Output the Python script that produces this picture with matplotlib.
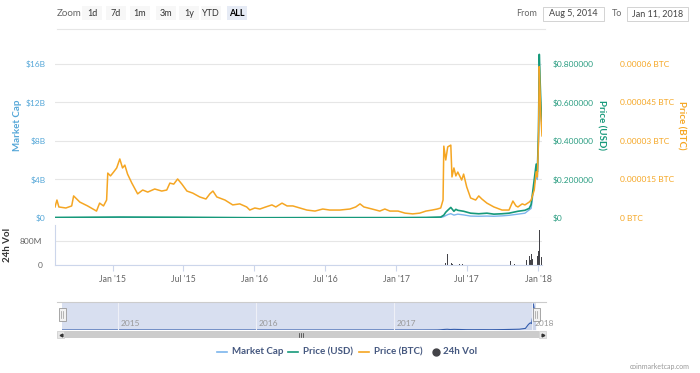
import numpy as np
import pandas as pd
import matplotlib
matplotlib.use("Agg")
import matplotlib.pyplot as plt
from matplotlib.patches import Rectangle

plt.rcParams['font.family'] = ['Lato', 'DejaVu Sans']

# ---- data ----
btc_dates = ["2014-08-05", "2014-08-10", "2014-08-15", "2014-09-02", "2014-09-17", "2014-09-22",
             "2014-10-08", "2014-10-28", "2014-11-20", "2014-11-28", "2014-12-08", "2014-12-16",
             "2014-12-19", "2014-12-26", "2015-01-03", "2015-01-11", "2015-01-19", "2015-01-26",
             "2015-02-01", "2015-02-08", "2015-02-19", "2015-03-06", "2015-03-19", "2015-04-01",
             "2015-04-19", "2015-05-07", "2015-05-20", "2015-05-28", "2015-06-07", "2015-06-17",
             "2015-06-28", "2015-07-11", "2015-07-26", "2015-08-13", "2015-08-29", "2015-09-08",
             "2015-09-16", "2015-09-26", "2015-10-17", "2015-11-06", "2015-11-24", "2015-12-12",
             "2015-12-20", "2016-01-02", "2016-01-15", "2016-01-30", "2016-02-15", "2016-02-25",
             "2016-03-12", "2016-03-25", "2016-04-09", "2016-04-27", "2016-05-15", "2016-06-05",
             "2016-06-25", "2016-07-13", "2016-08-08", "2016-09-03", "2016-09-18", "2016-09-29",
             "2016-10-09", "2016-10-30", "2016-11-19", "2016-12-02", "2016-12-15", "2017-01-05",
             "2017-01-23", "2017-02-12", "2017-03-02", "2017-03-18", "2017-04-03", "2017-04-16",
             "2017-04-25", "2017-05-01", "2017-05-03", "2017-05-08", "2017-05-13", "2017-05-21",
             "2017-05-24", "2017-05-29", "2017-06-03", "2017-06-08", "2017-06-18", "2017-06-23",
             "2017-07-01", "2017-07-11", "2017-07-24", "2017-08-01", "2017-08-09", "2017-08-22",
             "2017-09-09", "2017-09-30", "2017-10-18", "2017-10-28", "2017-11-05", "2017-11-10",
             "2017-11-21", "2017-11-28", "2017-12-09", "2017-12-14", "2017-12-22", "2017-12-27",
             "2017-12-30", "2018-01-02", "2018-01-04", "2018-01-06", "2018-01-08", "2018-01-11"]
btc_price = [4.3e-6, 7.0e-6, 4.3e-6, 3.9e-6, 4.7e-6, 8.6e-6,
             6.2e-6, 4.7e-6, 2.7e-6, 5.8e-6, 4.7e-6, 7.0e-6,
             1.75e-5, 1.64e-5, 1.79e-5, 1.95e-5, 2.3e-5, 1.95e-5,
             2.06e-5, 1.71e-5, 1.36e-5, 9.4e-6, 1.09e-5, 1.01e-5,
             1.13e-5, 1.05e-5, 1.09e-5, 1.36e-5, 1.32e-5, 1.52e-5,
             1.32e-5, 1.05e-5, 9.7e-6, 8.2e-6, 7.4e-6, 9.4e-6,
             1.05e-5, 8.2e-6, 7.0e-6, 5.1e-6, 5.5e-6, 4.3e-6,
             3.1e-6, 3.9e-6, 3.5e-6, 4.3e-6, 5.1e-6, 4.3e-6,
             5.8e-6, 4.7e-6, 4.7e-6, 3.9e-6, 3.1e-6, 2.7e-6,
             3.5e-6, 3.1e-6, 3.1e-6, 3.5e-6, 4.3e-6, 5.5e-6,
             4.3e-6, 3.5e-6, 2.7e-6, 3.5e-6, 2.7e-6, 2.7e-6,
             1.9e-6, 1.6e-6, 1.9e-6, 2.7e-6, 3.1e-6, 3.5e-6,
             3.9e-6, 7.0e-6, 2.8e-5, 2.26e-5, 2.77e-5, 2.84e-5,
             1.6e-5, 1.95e-5, 1.64e-5, 1.79e-5, 1.48e-5, 1.71e-5,
             1.21e-5, 7.8e-6, 7.0e-6, 8.6e-6, 7.4e-6, 5.8e-6,
             4.3e-6, 3.1e-6, 3.1e-6, 6.6e-6, 4.7e-6, 4.3e-6,
             5.5e-6, 5.1e-6, 6.2e-6, 7.0e-6, 1.09e-5, 1.8e-5,
             1.6e-5, 3.0e-5, 5.9e-5, 4.9e-5, 4.0e-5, 3.2e-5]

usd_dates = ["2014-08-05", "2015-01-19", "2015-06-17", "2016-01-02", "2016-06-25", "2017-01-05",
             "2017-03-18", "2017-04-25", "2017-05-03", "2017-05-08", "2017-05-13", "2017-05-21",
             "2017-05-29", "2017-06-03", "2017-06-08", "2017-06-23", "2017-07-11", "2017-08-01",
             "2017-08-22", "2017-09-09", "2017-09-30", "2017-10-18", "2017-11-10", "2017-11-28",
             "2017-12-09", "2017-12-14", "2017-12-22", "2017-12-27", "2017-12-30", "2018-01-02",
             "2018-01-04", "2018-01-06", "2018-01-08", "2018-01-11"]
usd_price = [0.003, 0.005, 0.004, 0.0015, 0.002, 0.002,
             0.003, 0.005, 0.015, 0.03, 0.04, 0.055,
             0.035, 0.045, 0.04, 0.035, 0.025, 0.022,
             0.025, 0.02, 0.022, 0.025, 0.035, 0.04,
             0.05, 0.07, 0.20, 0.28, 0.24, 0.45,
             0.85, 0.72, 0.60, 0.48]

mcap_dates = ["2014-08-05", "2015-01-19", "2016-01-02", "2017-03-18", "2017-04-25", "2017-05-03",
              "2017-05-13", "2017-05-21", "2017-05-29", "2017-06-08", "2017-06-23", "2017-07-11",
              "2017-08-01", "2017-08-22", "2017-09-09", "2017-09-30", "2017-10-18", "2017-11-10",
              "2017-11-28", "2017-12-14", "2017-12-22", "2017-12-27", "2017-12-30", "2018-01-02",
              "2018-01-04", "2018-01-06", "2018-01-08", "2018-01-11"]
mcap_bn = [0.02, 0.03, 0.01, 0.02, 0.05, 0.15,
           0.35, 0.45, 0.30, 0.40, 0.32, 0.20,
           0.18, 0.20, 0.18, 0.22, 0.28, 0.40,
           0.50, 1.0, 3.5, 4.5, 4.0, 8.0,
           16.3, 13.5, 11.0, 9.0]

vol_dates = ["2017-05-03", "2017-05-08", "2017-05-13", "2017-05-16", "2017-05-19", "2017-05-22",
             "2017-05-26", "2017-06-01", "2017-06-06", "2017-06-12", "2017-06-20", "2017-07-01",
             "2017-10-22", "2017-11-01", "2017-11-28", "2017-12-02", "2017-12-06", "2017-12-09",
             "2017-12-12", "2017-12-15", "2017-12-18", "2017-12-21", "2017-12-24", "2017-12-27",
             "2017-12-30", "2018-01-02", "2018-01-04", "2018-01-06", "2018-01-08", "2018-01-10"]
vol_m = [30, 80, 380, 150, 90, 60,
         40, 35, 30, 25, 20, 15,
         140, 30, 60, 180, 100, 290,
         150, 350, 200, 420, 230, 590,
         300, 450, 1150, 800, 600, 250]

mc_ticks = [0, 4, 8, 12, 16]
mc_labels = ["$0", "$4B", "$8B", "$12B", "$16B"]
usd_ticks = [0, 0.2, 0.4, 0.6, 0.8]
usd_labels = ["$0", "$0.200000", "$0.400000", "$0.600000", "$0.800000"]
btc_ticks = [0, 1.5e-5, 3e-5, 4.5e-5, 6e-5]
btc_labels = ["0 BTC", "0.000015 BTC", "0.00003 BTC", "0.000045 BTC", "0.00006 BTC"]
x_ticks = ["2015-01-01", "2015-07-01", "2016-01-01", "2016-07-01", "2017-01-01", "2017-07-01", "2018-01-01"]
x_labels = ["Jan '15", "Jul '15", "Jan '16", "Jul '16", "Jan '17", "Jul '17", "Jan '18"]
years = ["2015", "2016", "2017", "2018"]

C_MC = '#7cb5ec'
C_MC_TXT = '#55a7d8'
C_USD = '#16997a'
C_BTC = '#f5a623'
C_VOL = '#434348'

start, end = pd.Timestamp("2014-08-05"), pd.Timestamp("2018-01-11")

W, H = 700, 373
fig = plt.figure(figsize=(7, 3.73), dpi=100)


def box(x0, y0, x1, y1):
    # pixel box (top-left origin) -> figure fraction
    return [x0 / W, 1 - y1 / H, (x1 - x0) / W, (y1 - y0) / H]


k = 168 / 154  # plot top sits a little above the top gridline
ax = fig.add_axes(box(55, 50, 542, 218))
ax_usd = ax.twinx()
ax_btc = ax.twinx()
ax.set_xlim(start, end)
ax.set_ylim(0, 16 * k)
ax_usd.set_ylim(0, 0.8 * k)
ax_btc.set_ylim(0, 6e-5 * k)

ax.plot(pd.to_datetime(mcap_dates), mcap_bn, color=C_MC, lw=1.0)
ax_usd.plot(pd.to_datetime(usd_dates), usd_price, color=C_USD, lw=1.2)
ax_btc.plot(pd.to_datetime(btc_dates), btc_price, color=C_BTC, lw=1.1)

for a in (ax, ax_usd, ax_btc):
    for s in a.spines.values():
        s.set_visible(False)
    a.set_xticks([])
ax.set_yticks(mc_ticks, mc_labels)
ax.tick_params(axis='y', length=0, pad=7, labelsize=6, labelcolor=C_MC_TXT)
ax.grid(axis='y', color='#e6e6e6', lw=0.8)
ax.set_axisbelow(True)
ax_usd.set_yticks(usd_ticks, usd_labels)
ax_usd.tick_params(axis='y', length=0, pad=8, labelsize=6, labelcolor='#2a9d81')
ax_btc.set_yticks(btc_ticks, btc_labels)
ax_btc.tick_params(axis='y', length=0, pad=56, labelsize=6, labelcolor=C_BTC)

# volume panel
axv = fig.add_axes(box(55, 225, 542, 265))
axv.bar(pd.to_datetime(vol_dates), vol_m, width=1.6, color=C_VOL, lw=0)
axv.set_xlim(start, end)
axv.set_ylim(0, 1333)
axv.set_yticks([0, 800], ["0", "800M"])
axv.tick_params(axis='y', length=0, pad=9, labelsize=6, labelcolor='#666666')
axv.grid(axis='y', color='#e6e6e6', lw=0.8)
axv.set_axisbelow(True)
for s in ('top', 'right'):
    axv.spines[s].set_visible(False)
axv.spines['left'].set_color('#ccd6eb')
axv.spines['bottom'].set_color('#ccd6eb')
axv.set_xticks(pd.to_datetime(x_ticks), x_labels)
axv.tick_params(axis='x', length=4, color='#ccd6eb', pad=3, labelsize=6.3, labelcolor='#666666')

fig.text(17 / W, 1 - 125 / H, "Market Cap", rotation=90, ha='center', va='center',
         fontsize=7, color=C_MC_TXT, fontweight='bold')
fig.text(8 / W, 1 - 245 / H, "24h Vol", rotation=90, ha='center', va='center',
         fontsize=7, color='#333333', fontweight='bold')
fig.text(601 / W, 1 - 125 / H, "Price (USD)", rotation=270, ha='center', va='center',
         fontsize=7, color=C_USD, fontweight='bold')
fig.text(681 / W, 1 - 125 / H, "Price (BTC)", rotation=270, ha='center', va='center',
         fontsize=7, color=C_BTC, fontweight='bold')

# navigator
axn = fig.add_axes(box(62, 302, 536, 330))
axn.set_facecolor('#d8dff0')
axn.set_xlim(start, end)
axn.set_ylim(0, 17.5)
nd = pd.to_datetime(mcap_dates)
axn.plot(nd, mcap_bn, color='#335cad', lw=0.8)
axn.fill_between(nd, mcap_bn, color='#335cad', alpha=0.08, lw=0)
for y in years:
    axn.axvline(pd.Timestamp(y + "-01-01"), color='#eef0f7', lw=0.8)
    axn.text(pd.Timestamp(y + "-01-08"), 4, y, fontsize=6, color='#999999', va='center')
axn.set_xticks([])
axn.set_yticks([])
for s in axn.spines.values():
    s.set_visible(False)

# overlay for page furniture, pixel coords
ov = fig.add_axes([0, 0, 1, 1])
ov.set_xlim(0, W)
ov.set_ylim(H, 0)
ov.axis('off')

ov.plot([57, 546], [302, 302], color='#cccccc', lw=0.8)
for hx in (62, 536):
    ov.add_patch(Rectangle((hx - 3.5, 308), 7, 13, facecolor='#f2f2f2', edgecolor='#999999', lw=0.6))
    ov.plot([hx - 1, hx - 1], [311, 318], color='#999999', lw=0.5)
    ov.plot([hx + 1, hx + 1], [311, 318], color='#999999', lw=0.5)

# scrollbar
ov.add_patch(Rectangle((57, 331), 489, 7, facecolor='#f2f2f2', edgecolor='none'))
ov.add_patch(Rectangle((64, 331), 475, 7, facecolor='#cccccc', edgecolor='none'))
ov.add_patch(Rectangle((57, 331), 7, 7, facecolor='#e6e6e6', edgecolor='#cccccc', lw=0.5))
ov.add_patch(Rectangle((539, 331), 7, 7, facecolor='#e6e6e6', edgecolor='#cccccc', lw=0.5))
ov.plot([60.5], [334.5], marker='<', ms=2, color='#333333')
ov.plot([542.5], [334.5], marker='>', ms=2, color='#333333')
for gx in (298.5, 300.5, 302.5):
    ov.plot([gx, gx], [332.5, 336.5], color='#333333', lw=0.5)

# legend
leg_y = 352
items = [(217, "Market Cap", C_MC), (288, "Price (USD)", C_USD), (359, "Price (BTC)", C_BTC)]
for lx, name, col in items:
    ov.plot([lx, lx + 10], [leg_y, leg_y], color=col, lw=1.2)
    ov.text(lx + 15, leg_y, name, fontsize=7, color='#44577f', va='center', fontweight='bold')
ov.plot([436], [leg_y], marker='o', ms=5, color=C_VOL)
ov.text(443, leg_y, "24h Vol", fontsize=7, color='#44577f', va='center', fontweight='bold')

ov.text(690, 367, "coinmarketcap.com", fontsize=5, color='#999999', ha='right', va='center')

# range selector
ov.text(57, 13, "Zoom", fontsize=7, color='#666666', va='center')
buttons = [(92, "1d"), (116, "7d"), (140, "1m"), (166, "3m"), (189, "1y"), (211, "YTD"), (237, "ALL")]
for bx, lab in buttons:
    sel = lab == "ALL"
    ov.add_patch(Rectangle((bx - 10, 6), 20, 14, facecolor='#e6ebf5' if sel else '#f7f7f7',
                           edgecolor='none'))
    ov.text(bx, 13, lab, fontsize=6.5, ha='center', va='center',
            color='#000000' if sel else '#333333', fontweight='bold' if sel else 'normal')
ov.plot([57, 545], [29, 29], color='#e6e6e6', lw=0.8)

ov.text(537, 14, "From", fontsize=6.5, color='#666666', ha='right', va='center')
ov.add_patch(Rectangle((543, 7), 61, 14, facecolor='white', edgecolor='#cccccc', lw=0.6))
ov.text(573.5, 14, "Aug 5, 2014", fontsize=6.5, color='#444444', ha='center', va='center')
ov.text(612, 14, "To", fontsize=6.5, color='#666666', ha='left', va='center')
ov.add_patch(Rectangle((627, 7), 61, 14, facecolor='white', edgecolor='#cccccc', lw=0.6))
ov.text(657.5, 14, "Jan 11, 2018", fontsize=6.5, color='#444444', ha='center', va='center')

fig.savefig("out.png", dpi=100)
